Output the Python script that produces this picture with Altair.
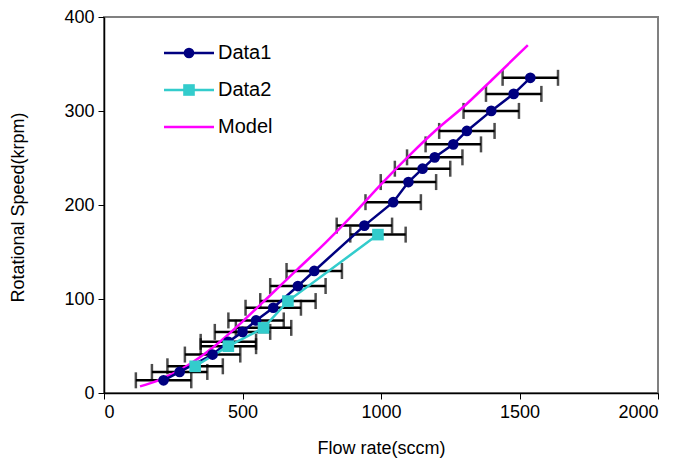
import altair as alt
import pandas as pd

# Data1 (circles, navy)
d1_x = [215, 273, 392, 449, 500, 549, 611, 700, 759, 940, 1044, 1099, 1150, 1194, 1261, 1310, 1398, 1479, 1539]
d1_y = [13.5, 22.4, 40.9, 54.4, 65, 77.2, 90.7, 113.8, 129.8, 178.1, 203, 224.4, 238.6, 250.7, 264.5, 278.8, 300.1, 318.2, 335.3]
# Data2 (squares, turquoise)
d2_x = [329, 449, 576, 664, 989]
d2_y = [28.4, 49.8, 69.3, 97.8, 168.5]
# Model (magenta line)
m_x = [130, 200, 300, 400, 500, 600, 700, 800, 900, 1000, 1100, 1200, 1300, 1400, 1530]
m_y = [7, 14, 29, 50, 76, 104, 132, 160, 190, 222, 252, 280, 305, 333, 370]
# horizontal error (sccm)
err = 100

x_ticks = [0, 500, 1000, 1500, 2000]
y_ticks = [0, 100, 200, 300, 400]

C1 = "#000080"
C2 = "#33CCCC"
CM = "#FF00FF"
FONT = "Liberation Sans"

df1 = pd.DataFrame({"x": d1_x, "y": d1_y})
df1["lo"] = df1["x"] - err
df1["hi"] = df1["x"] + err
df2 = pd.DataFrame({"x": d2_x, "y": d2_y})
df2["lo"] = df2["x"] - err
df2["hi"] = df2["x"] + err
dfm = pd.DataFrame({"x": m_x, "y": m_y})
dferr = pd.concat([df1, df2], ignore_index=True)

xs = alt.Scale(domain=[0, 2000], nice=False)
ys = alt.Scale(domain=[0, 400], nice=False)

xaxis = alt.Axis(values=x_ticks, format="d", grid=False, labelFont=FONT, labelFontSize=18, labelColor="black",
                 labelPadding=4, tickSize=6, tickColor="black", domainColor="black", domainWidth=1.5,
                 title="Flow rate(sccm)", titleFont=FONT, titleFontSize=18, titleFontWeight="normal",
                 titleColor="black", titleY=55, titleBaseline="middle")
yaxis = alt.Axis(values=y_ticks, format="d", grid=False, labelFont=FONT, labelFontSize=18, labelColor="black",
                 labelPadding=4, tickSize=6, tickColor="black", domainColor="black", domainWidth=1.5,
                 title="Rotational Speed(krpm)", titleFont=FONT, titleFontSize=18, titleFontWeight="normal",
                 titleColor="black", titleX=-86, titleY=190, titleAlign="center", titleBaseline="middle",
                 titleAngle=-90)

X = alt.X("x:Q", scale=xs, axis=xaxis)
Y = alt.Y("y:Q", scale=ys, axis=yaxis)

errbars = alt.Chart(dferr).mark_rule(color="black", strokeWidth=2.5).encode(
    x=alt.X("lo:Q", scale=xs, axis=xaxis), x2="hi:Q", y=Y)
cap_lo = alt.Chart(dferr).mark_tick(color="black", thickness=2.5, size=16, orient="vertical").encode(
    x=alt.X("lo:Q", scale=xs, axis=xaxis), y=Y)
cap_hi = alt.Chart(dferr).mark_tick(color="black", thickness=2.5, size=16, orient="vertical").encode(
    x=alt.X("hi:Q", scale=xs, axis=xaxis), y=Y)

model = alt.Chart(dfm).mark_line(color=CM, strokeWidth=2.5, interpolate="monotone").encode(x=X, y=Y)
line1 = alt.Chart(df1).mark_line(color=C1, strokeWidth=2.5).encode(x=X, y=Y)
pts1 = alt.Chart(df1).mark_point(shape="circle", filled=True, color=C1, opacity=1, size=115).encode(x=X, y=Y)
line2 = alt.Chart(df2).mark_line(color=C2, strokeWidth=2.5).encode(x=X, y=Y)
pts2 = alt.Chart(df2).mark_point(shape="square", filled=True, color=C2, opacity=1, size=135).encode(x=X, y=Y)

# manual legend (inside plot, top-left)
leg_names = ["Data1", "Data2", "Model"]
leg_colors = [C1, C2, CM]
leg_shapes = ["circle", "square", None]
leg_rows = [36, 73, 110]
legend_layers = []
for name, col, shp, row in zip(leg_names, leg_colors, leg_shapes, leg_rows):
    ldf = pd.DataFrame({"label": [name]})
    legend_layers.append(alt.Chart(ldf).mark_rule(color=col, strokeWidth=2.5).encode(
        x=alt.value(60), x2=alt.value(110), y=alt.value(row)))
    if shp:
        legend_layers.append(alt.Chart(ldf).mark_point(shape=shp, filled=True, color=col, opacity=1,
                                                       size=115 if shp == "circle" else 135).encode(
            x=alt.value(85), y=alt.value(row)))
    legend_layers.append(alt.Chart(ldf).mark_text(align="left", baseline="middle", font=FONT, fontSize=20,
                                                  color="black").encode(
        x=alt.value(114), y=alt.value(row), text="label:N"))

chart = alt.layer(errbars, cap_lo, cap_hi, model, line1, line2, pts1, pts2, *legend_layers).properties(
    width=554, height=376,
    autosize=alt.AutoSizeParams(type="none"),
    padding={"left": 96, "top": 9, "right": 15, "bottom": 66},
    background="white",
).configure_view(stroke="#808080", strokeWidth=2)

chart.save("out.html", embed_options={"renderer": "svg", "actions": False})
